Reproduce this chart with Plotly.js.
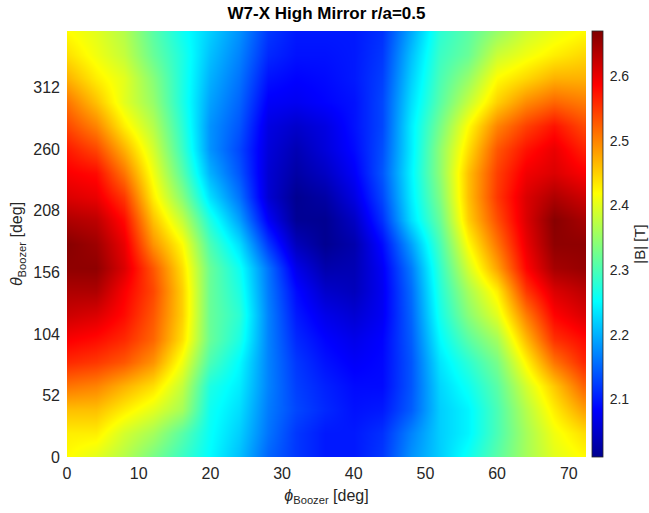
<!DOCTYPE html>
<html>
<head>
<meta charset="utf-8">
<script src="https://cdn.plot.ly/plotly-3.0.1.min.js"></script>
<style>
html,body{margin:0;padding:0;background:#fff;}
#chart{width:649px;height:513px;}
</style>
</head>
<body>
<div id="chart"></div>
<script>
// Boozer toroidal angle (deg) and poloidal angle (deg) grid
const phiDeg = [0,4,8,12,16,20,24,28,32,36,40,44,48,52,56,60,64,68,72];
const thetaDeg = [0,20,40,60,80,100,120,140,160,180,200,220,240,260,280,300,320,340,360];

// |B| [T] along theta for each phi column
const B_phi0  = [2.42,2.43,2.46,2.51,2.56,2.59,2.62,2.64,2.66,2.665,2.64,2.61,2.59,2.57,2.54,2.51,2.47,2.44,2.42];
const B_phi4  = [2.40,2.43,2.46,2.50,2.55,2.58,2.61,2.64,2.66,2.65,2.63,2.60,2.58,2.54,2.50,2.46,2.43,2.41,2.40];
const B_phi8  = [2.37,2.39,2.43,2.47,2.53,2.56,2.58,2.59,2.61,2.60,2.58,2.55,2.51,2.47,2.43,2.40,2.40,2.38,2.37];
const B_phi12 = [2.33,2.36,2.40,2.44,2.49,2.52,2.53,2.54,2.53,2.49,2.46,2.43,2.41,2.39,2.37,2.35,2.34,2.32,2.31];
const B_phi16 = [2.29,2.31,2.36,2.38,2.41,2.44,2.45,2.45,2.44,2.42,2.38,2.34,2.31,2.29,2.28,2.27,2.27,2.27,2.26];
const B_phi20 = [2.25,2.255,2.26,2.27,2.30,2.32,2.32,2.32,2.32,2.30,2.27,2.23,2.20,2.18,2.18,2.19,2.20,2.21,2.22];
const B_phi24 = [2.21,2.22,2.23,2.24,2.25,2.27,2.28,2.27,2.26,2.23,2.19,2.16,2.14,2.13,2.14,2.15,2.16,2.17,2.18];
const B_phi28 = [2.15,2.16,2.165,2.17,2.17,2.17,2.17,2.165,2.16,2.12,2.08,2.055,2.055,2.06,2.065,2.08,2.095,2.11,2.12];
const B_phi32 = [2.12,2.12,2.13,2.125,2.12,2.11,2.10,2.09,2.07,2.04,2.015,2.012,2.025,2.035,2.05,2.075,2.085,2.095,2.10];
const B_phi36 = [2.10,2.10,2.11,2.105,2.095,2.085,2.07,2.05,2.03,2.012,2.012,2.025,2.045,2.06,2.065,2.085,2.09,2.095,2.10];
const B_phi40 = [2.10,2.10,2.095,2.09,2.08,2.07,2.055,2.04,2.035,2.03,2.045,2.065,2.08,2.09,2.095,2.095,2.10,2.10,2.10];
const B_phi44 = [2.12,2.115,2.10,2.09,2.088,2.085,2.077,2.075,2.078,2.09,2.115,2.13,2.14,2.135,2.13,2.13,2.125,2.12,2.115];
const B_phi48 = [2.18,2.17,2.145,2.14,2.14,2.145,2.15,2.155,2.165,2.19,2.23,2.24,2.245,2.24,2.24,2.23,2.22,2.21,2.195];
const B_phi52 = [2.22,2.22,2.22,2.225,2.235,2.25,2.265,2.275,2.285,2.30,2.32,2.335,2.345,2.345,2.33,2.31,2.30,2.29,2.28];
const B_phi56 = [2.26,2.245,2.245,2.26,2.28,2.31,2.34,2.36,2.39,2.42,2.45,2.46,2.46,2.44,2.42,2.38,2.35,2.32,2.31];
const B_phi60 = [2.31,2.30,2.30,2.31,2.33,2.36,2.40,2.43,2.48,2.51,2.535,2.55,2.545,2.53,2.50,2.45,2.42,2.385,2.35];
const B_phi64 = [2.36,2.36,2.37,2.39,2.425,2.465,2.505,2.55,2.585,2.60,2.61,2.61,2.595,2.575,2.545,2.495,2.445,2.41,2.385];
const B_phi68 = [2.40,2.41,2.43,2.455,2.51,2.555,2.585,2.61,2.645,2.66,2.665,2.64,2.61,2.60,2.575,2.52,2.47,2.43,2.405];
const B_phi72 = [2.42,2.44,2.48,2.52,2.56,2.58,2.61,2.63,2.655,2.66,2.645,2.62,2.59,2.565,2.54,2.505,2.47,2.445,2.42];

const xTicks = [0,10,20,30,40,50,60,70];
const yTicks = [0,52,104,156,208,260,312];
const cbTicks = [2.1,2.2,2.3,2.4,2.5,2.6];

const columns = [B_phi0,B_phi4,B_phi8,B_phi12,B_phi16,B_phi20,B_phi24,B_phi28,B_phi32,B_phi36,
                 B_phi40,B_phi44,B_phi48,B_phi52,B_phi56,B_phi60,B_phi64,B_phi68,B_phi72];

const jet = [
  [0,'rgb(0,0,143)'],
  [0.111,'rgb(0,0,255)'],
  [0.365,'rgb(0,255,255)'],
  [0.619,'rgb(255,255,0)'],
  [0.873,'rgb(255,0,0)'],
  [1,'rgb(128,0,0)']
];

const FONT = 'Liberation Sans, Arial, Helvetica, sans-serif';
const TXT = '#262626';

// Paper spans x = 67 .. 649 px (582 px); plot area 67 .. 586 px
const PAPER_W = 582;
const plotFrac = 519 / PAPER_W;

const trace = {
  type: 'heatmap',
  x: phiDeg,
  y: thetaDeg,
  z: columns,
  transpose: true,
  zsmooth: 'best',
  zmin: 2.011,
  zmax: 2.670,
  colorscale: jet,
  hoverinfo: 'x+y+z',
  colorbar: {
    x: (592 - 67) / PAPER_W, xanchor: 'left', xpad: 0,
    y: 0.5, yanchor: 'middle', ypad: 0,
    len: 1, lenmode: 'fraction',
    thickness: 11,
    outlinewidth: 0.8, outlinecolor: TXT,
    tickvals: cbTicks,
    ticktext: cbTicks.map(v => v.toFixed(1)),
    ticks: 'outside', ticklen: 4, tickcolor: 'rgba(0,0,0,0)',
    tickfont: {family: FONT, size: 14, color: TXT},
    title: {text: '|B| [T]', side: 'right', font: {family: FONT, size: 15, color: TXT}}
  }
};

const layout = {
  width: 649, height: 513,
  margin: {l: 67, r: 0, t: 31, b: 56, pad: 0},
  paper_bgcolor: '#fff', plot_bgcolor: '#fff',
  font: {family: FONT, color: TXT},
  title: {
    text: '<b>W7-X High Mirror r/a=0.5</b>',
    font: {family: FONT, size: 17, color: '#000'},
    xref: 'paper', x: plotFrac / 2, xanchor: 'center',
    yref: 'container', y: 1 - 13/513, yanchor: 'middle'
  },
  xaxis: {
    domain: [0, plotFrac],
    range: [0, 72.4],
    tickvals: xTicks,
    ticktext: xTicks.map(String),
    ticks: '', showgrid: false, zeroline: false, showline: false,
    ticklabelstandoff: 5,
    tickfont: {family: FONT, size: 16, color: TXT},
    title: {text: '<i>ϕ</i><sub>Boozer</sub> [deg]', font: {family: FONT, size: 16, color: TXT}, standoff: 8}
  },
  yaxis: {
    range: [0, 360],
    tickvals: yTicks,
    ticktext: yTicks.map(String),
    ticks: '', showgrid: false, zeroline: false, showline: false,
    ticklabelstandoff: 6,
    tickfont: {family: FONT, size: 16, color: TXT},
    title: {text: '<i>θ</i><sub>Boozer</sub> [deg]', font: {family: FONT, size: 16, color: TXT}, standoff: 6}
  }
};

Plotly.newPlot('chart', [trace], layout, {displayModeBar: false, staticPlot: true});
</script>
</body>
</html>
